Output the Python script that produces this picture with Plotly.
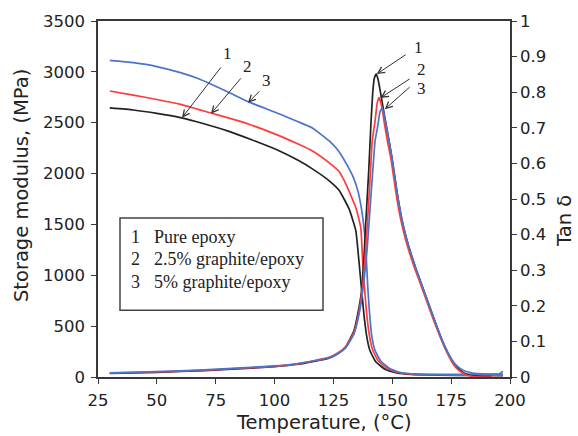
import plotly.graph_objects as go

# ---------------- data ----------------
# Storage modulus (MPa) vs temperature (°C)
T_E1 = [30, 40, 50, 60, 70, 80, 90, 101.9, 110, 115.9, 123.1, 127.4, 131.7, 134.5, 135.8, 136.8, 137.8, 139, 140.5, 143, 147, 152, 158, 170, 185, 197]
E1 = [2645, 2625, 2592, 2550, 2490, 2420, 2335, 2225, 2130, 2049, 1931, 1835, 1650, 1441, 1150, 900, 650, 420, 260, 150, 75, 40, 25, 18, 15, 14]

T_E2 = [30, 40, 50, 60, 73, 80, 90, 101.9, 110, 115.9, 123.1, 127.4, 130.2, 134.5, 136.6, 137.4, 138.2, 139, 140.2, 141.6, 144, 148, 153, 159, 170, 185, 197]
E2 = [2812, 2772, 2728, 2680, 2595, 2550, 2478, 2373, 2290, 2225, 2108, 2020, 1902, 1667, 1470, 1150, 880, 650, 420, 270, 160, 80, 42, 26, 20, 17, 16]

T_E3 = [30, 40, 50, 60, 68, 80, 89, 101.9, 110, 115.9, 123.1, 127.4, 131, 133.5, 135.5, 137, 138.2, 139, 139.6, 140.3, 141.3, 142.7, 145, 149, 154, 160, 170, 185, 195, 197]
E3 = [3112, 3090, 3052, 2992, 2930, 2805, 2705, 2588, 2510, 2451, 2323, 2215, 2075, 1960, 1820, 1640, 1420, 1150, 880, 640, 400, 260, 160, 80, 42, 30, 27, 27, 27, 55]

# Tan delta vs temperature (°C)
T_D1 = [30, 50, 70, 90, 100, 110, 123.1, 127, 130.2, 133.7, 135.9, 137, 138, 138.8, 140, 141, 141.7, 142.4, 143.2, 144, 145.1, 146.8, 148.6, 150, 152, 154, 156, 158, 160, 163, 166, 169, 172, 175, 177, 180, 183, 187, 192]
D1 = [0.010, 0.013, 0.018, 0.025, 0.029, 0.036, 0.053, 0.066, 0.085, 0.13, 0.197, 0.244, 0.34, 0.44, 0.58, 0.72, 0.80, 0.84, 0.851, 0.835, 0.795, 0.73, 0.664, 0.61, 0.52, 0.445, 0.39, 0.345, 0.305, 0.25, 0.195, 0.14, 0.09, 0.05, 0.03, 0.013, 0.005, 0.002, 0.001]

T_D2 = [30, 50, 70, 90, 100, 110, 123.1, 127, 130.2, 133.7, 135.9, 137.3, 138.5, 139.5, 140.5, 141.5, 142.7, 143.6, 144.4, 145.5, 146.7, 147.9, 149.5, 151.5, 153.5, 155.5, 157.5, 159.5, 161.5, 164.5, 167.5, 170.5, 173.5, 176, 178, 181, 184, 188, 192]
D2 = [0.011, 0.014, 0.019, 0.026, 0.030, 0.037, 0.055, 0.068, 0.085, 0.125, 0.185, 0.25, 0.34, 0.44, 0.55, 0.664, 0.72, 0.77, 0.785, 0.76, 0.71, 0.664, 0.61, 0.52, 0.445, 0.39, 0.345, 0.305, 0.27, 0.215, 0.16, 0.11, 0.065, 0.035, 0.02, 0.007, 0.002, 0.0, 0.0]

T_D3 = [30, 50, 70, 90, 100, 110, 123.1, 127, 130.2, 133.7, 136, 137.8, 139.2, 140.2, 141.5, 142.7, 143.7, 144.8, 145.8, 147, 148.6, 150, 152, 154, 156, 158, 160, 163, 166, 169, 172, 175, 177, 180, 184, 190, 197]
D3 = [0.012, 0.015, 0.020, 0.027, 0.031, 0.038, 0.054, 0.066, 0.082, 0.12, 0.18, 0.26, 0.35, 0.44, 0.56, 0.664, 0.70, 0.745, 0.757, 0.72, 0.664, 0.61, 0.52, 0.445, 0.39, 0.345, 0.305, 0.25, 0.195, 0.14, 0.09, 0.052, 0.034, 0.019, 0.011, 0.008, 0.008]

series_colors = ["#222222", "#ff3b3b", "#4a74c9"]
legend_numbers = ["1", "2", "3"]
legend_labels = ["Pure epoxy", "2.5% graphite/epoxy", "5% graphite/epoxy"]

x_ticks = [25, 50, 75, 100, 125, 150, 175, 200]

x_title = "Temperature, (°C)"
y_title = "Storage modulus, (MPa)"
y2_title = "Tan δ"

# ---------------- figure ----------------
fig = go.Figure()

storage = [(T_E1, E1), (T_E2, E2), (T_E3, E3)]
tand = [(T_D1, D1), (T_D2, D2), (T_D3, D3)]

for (tx, ty), c in zip(storage, series_colors):
    fig.add_trace(go.Scatter(x=tx, y=ty, mode="lines",
                             line=dict(color=c, width=1.7, shape="spline", smoothing=0.4),
                             showlegend=False, yaxis="y"))
for (tx, ty), c in zip(tand, series_colors):
    fig.add_trace(go.Scatter(x=tx, y=ty, mode="lines",
                             line=dict(color=c, width=1.7, shape="spline", smoothing=0.4),
                             showlegend=False, yaxis="y2"))

axis_col = "#383838"
sans = "DejaVu Sans, Verdana, sans-serif"
serif = "Liberation Serif, Times New Roman, serif"
tick_font = dict(family=sans, size=16.5, color="#222222")
title_font = dict(family=sans, size=19.5, color="#222222")

fig.update_layout(
    width=578, height=436,
    margin=dict(l=98, r=68, t=19, b=59),
    paper_bgcolor="white", plot_bgcolor="white",
    xaxis=dict(range=[25, 200], tickvals=x_ticks, ticks="outside", ticklen=5, tickcolor=axis_col, tickwidth=1.3,
               showline=True, linecolor=axis_col, linewidth=1.6, mirror=True, showgrid=False, zeroline=False,
               tickfont=tick_font, ticklabelstandoff=2),
    yaxis=dict(range=[0, 3500], dtick=500, ticks="outside", ticklen=5, tickcolor=axis_col, tickwidth=1.3,
               showline=True, linecolor=axis_col, linewidth=1.6, showgrid=False, zeroline=False,
               tickfont=tick_font, ticklabelstandoff=3),
    yaxis2=dict(range=[0, 1], dtick=0.1, ticks="outside", ticklen=5, tickcolor=axis_col, tickwidth=1.3,
                overlaying="y", side="right",
                showline=True, linecolor=axis_col, linewidth=1.6, showgrid=False, zeroline=False,
                tickfont=tick_font),
)

def px2paper(px, py):
    return (px - 98) / 412, (377 - py) / 358

# axis titles placed as annotations to match the original positions
for txt, (px, py), ang in [(x_title, (324, 423), 0), (y_title, (21, 185), -90), (y2_title, (565, 220), -90)]:
    ax_, ay_ = px2paper(px, py)
    fig.add_annotation(x=ax_, y=ay_, xref="paper", yref="paper", text=txt, showarrow=False,
                       textangle=ang, font=title_font, xanchor="center", yanchor="middle")

# numbered arrows (left group on storage modulus, right group on tan delta)
arrow_col = "#333333"
num_font = dict(family=serif, size=17, color="#222222")
left_arrows = [  # label, tip T, tip E, tail T, tail E, label T, label E
    ("1", 60.7, 2549, 77.7, 3059, 80.2, 3176),
    ("2", 73.0, 2588, 86.2, 2951, 88.3, 3049),
    ("3", 88.7, 2696, 94.2, 2824, 96.4, 2912),
]
for lab, xt, yt, xa, ya, xl, yl in left_arrows:
    fig.add_annotation(x=xt, y=yt, ax=xa, ay=ya, xref="x", yref="y", axref="x", ayref="y", text="",
                       showarrow=True, arrowhead=5, arrowsize=1.3, arrowwidth=1, arrowcolor=arrow_col)
    fig.add_annotation(x=xl, y=yl, xref="x", yref="y", text=lab, showarrow=False, font=num_font,
                       xanchor="center", yanchor="middle")

right_arrows = [
    ("1", 143.4, 0.851, 156.3, 0.908, 161.0, 0.925),
    ("2", 145.0, 0.784, 158.0, 0.840, 162.2, 0.863),
    ("3", 146.8, 0.752, 158.0, 0.818, 162.2, 0.810),
]
for lab, xt, yt, xa, ya, xl, yl in right_arrows:
    fig.add_annotation(x=xt, y=yt, ax=xa, ay=ya, xref="x", yref="y2", axref="x", ayref="y2", text="",
                       showarrow=True, arrowhead=5, arrowsize=1.3, arrowwidth=1, arrowcolor=arrow_col)
    fig.add_annotation(x=xl, y=yl, xref="x", yref="y2", text=lab, showarrow=False, font=num_font,
                       xanchor="center", yanchor="middle")

# legend box drawn as a framed text block
x0, y0 = px2paper(120, 217)
x1, y1 = px2paper(323, 310)
fig.add_shape(type="rect", xref="paper", yref="paper", x0=x0, y0=y1, x1=x1, y1=y0,
              line=dict(color="#444444", width=1.5), fillcolor="white", layer="below")

leg_font = dict(family=serif, size=18, color="#222222")
for i, (n, lab) in enumerate(zip(legend_numbers, legend_labels)):
    py = 236 + i * 22.5
    nx, ny = px2paper(135, py)
    tx, ty = px2paper(152, py)
    fig.add_annotation(x=nx, y=ny, xref="paper", yref="paper", text=n, showarrow=False, font=leg_font,
                       xanchor="center", yanchor="middle")
    fig.add_annotation(x=tx, y=ty, xref="paper", yref="paper", text=lab, showarrow=False, font=leg_font,
                       xanchor="left", yanchor="middle")

fig.write_html("out.html", config={"displayModeBar": False},
               post_script="document.body.style.margin='0px';")
